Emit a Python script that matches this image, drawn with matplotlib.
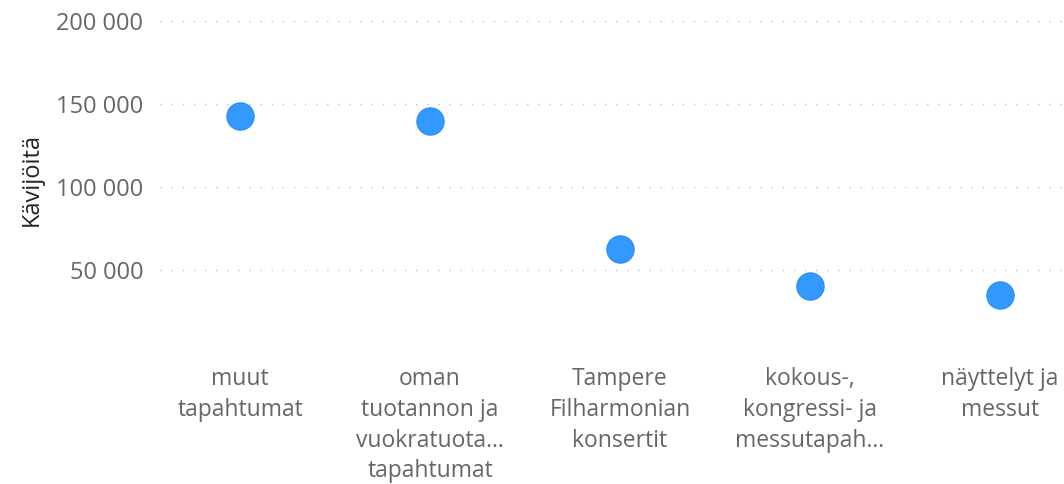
import matplotlib
matplotlib.use("Agg")
import matplotlib.pyplot as plt

# data
categories = [
    "muut\ntapahtumat",
    "oman\ntuotannon ja\nvuokratuota...\ntapahtumat",
    "Tampere\nFilharmonian\nkonsertit",
    "kokous-,\nkongressi- ja\nmessutapah...",
    "näyttelyt ja\nmessut",
]
visitors = [142500, 139800, 62500, 40500, 35000]
yticks = [50000, 100000, 150000, 200000]
ytick_labels = ["50 000", "100 000", "150 000", "200 000"]

plt.rcParams["font.family"] = ["Open Sans", "DejaVu Sans"]

fig = plt.figure(figsize=(10.64, 4.84), dpi=100)
# axes span from the first gridline start (x=160px) to the right edge
ax = fig.add_axes([160 / 1064, 131 / 484, 904 / 1064, 349 / 484])

x = list(range(len(categories)))
ax.plot(x, visitors, linestyle="none", marker="o", markersize=19.5,
        markerfacecolor="#3399ff", markeredgecolor="#2b8ff5",
        markeredgewidth=1, zorder=3)

ax.set_xlim(-80 / 190, 4 + 64 / 190)
ax.set_ylim(0, 210000)

ax.set_yticks(yticks)
ax.set_yticklabels(ytick_labels)
ax.set_xticks(x)
ax.set_xticklabels(categories, linespacing=1.38)

ax.grid(axis="y", color="#c4c4c4", linestyle=(0, (1, 7)), linewidth=1)
ax.set_axisbelow(True)
for s in ax.spines.values():
    s.set_visible(False)

ax.tick_params(axis="y", length=0, pad=12, labelsize=17, labelcolor="#666666")
ax.tick_params(axis="x", length=0, pad=10, labelsize=16.5, labelcolor="#666666")

ax.set_ylabel("Kävijöitä", fontsize=17, color="#252423")
ax.yaxis.set_label_coords(-116 / 904, (484 - 180 - 131) / 349)

fig.savefig("out.png", dpi=100)
